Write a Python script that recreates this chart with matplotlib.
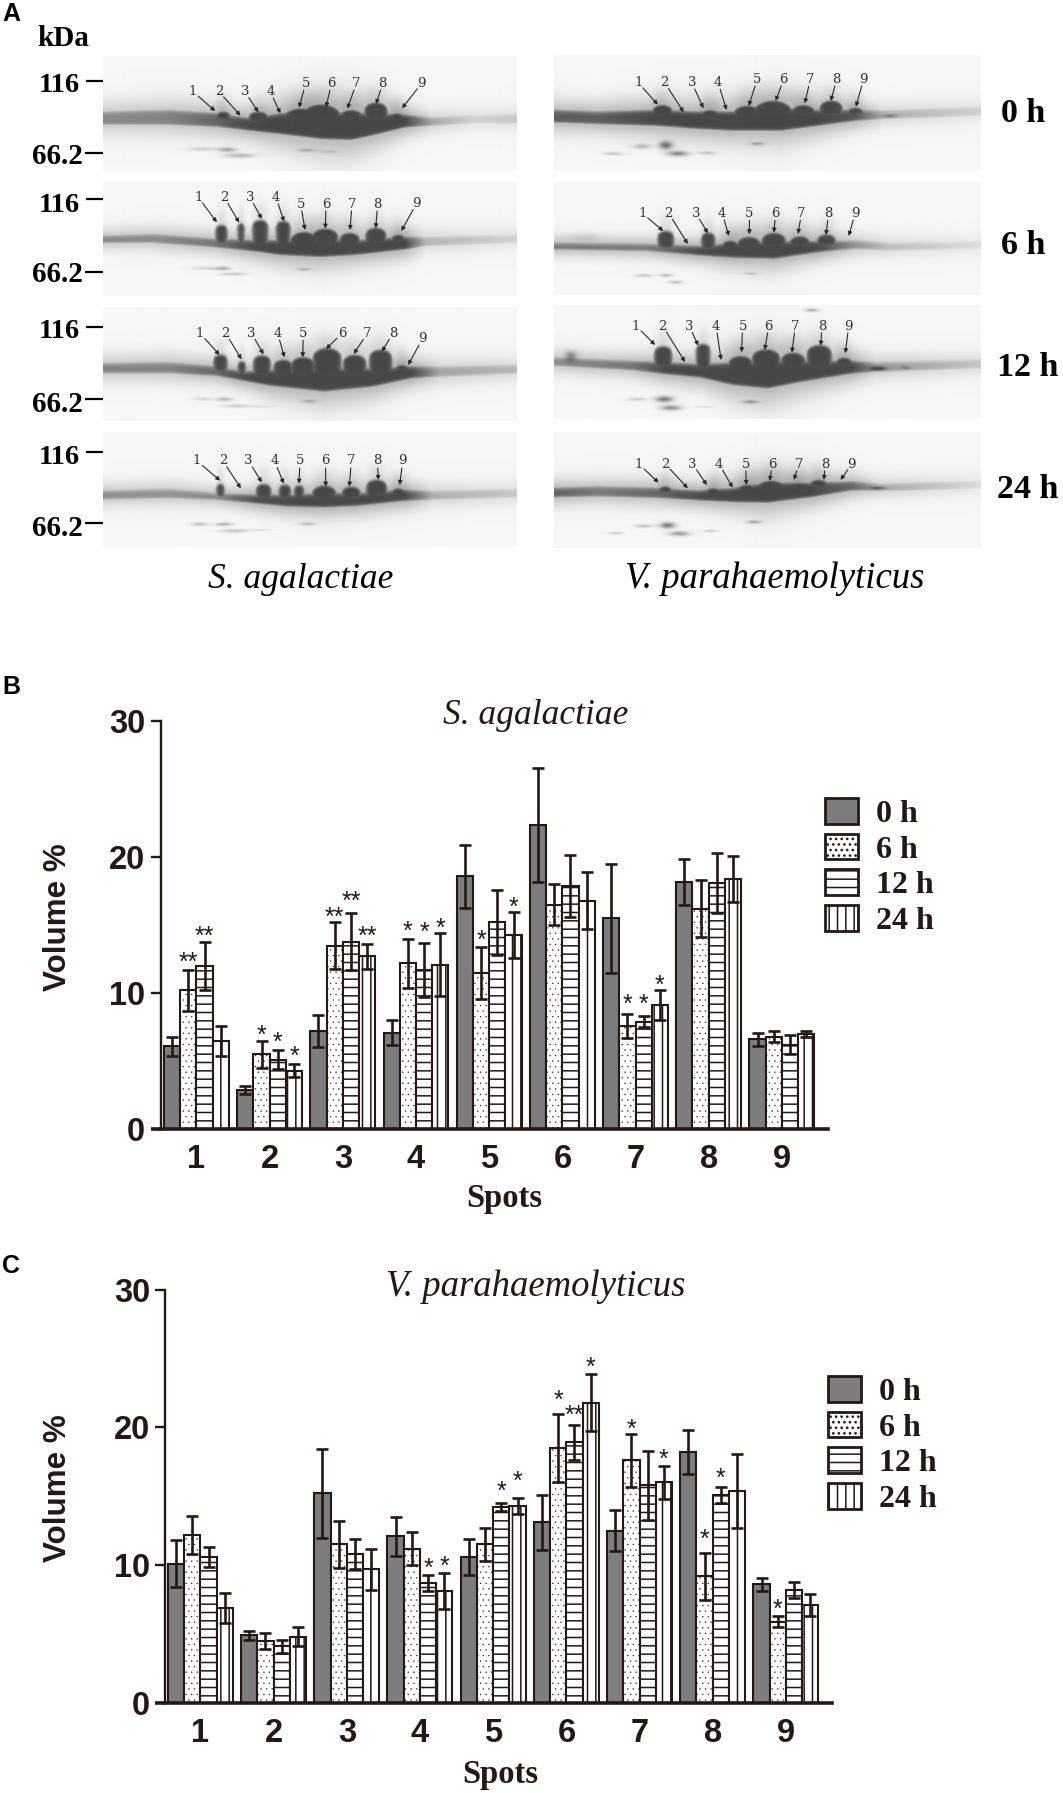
import matplotlib
matplotlib.use("Agg")
import matplotlib.pyplot as plt
from matplotlib.font_manager import FontProperties
import numpy as np

W, H = 1063, 1793
INK = "#231815"
plt.rcParams["hatch.linewidth"] = 1.1
plt.rcParams["hatch.color"] = INK

spots = [1, 2, 3, 4, 5, 6, 7, 8, 9]
times = ["0 h", "6 h", "12 h", "24 h"]

# panel B, S. agalactiae
b_0h = [6.1, 2.9, 7.2, 7.1, 18.6, 22.4, 15.5, 18.2, 6.6]
b_0h_err = [0.7, 0.3, 1.2, 0.9, 2.3, 4.2, 4.0, 1.7, 0.5]
b_6h = [10.2, 5.5, 13.5, 12.2, 11.5, 16.5, 7.6, 16.2, 6.8]
b_6h_err = [1.5, 1.0, 1.7, 1.8, 1.9, 1.5, 0.9, 2.1, 0.4]
b_12h = [12.0, 5.1, 13.8, 11.7, 15.2, 17.9, 7.9, 18.1, 6.2]
b_12h_err = [1.8, 0.7, 2.1, 2.0, 2.4, 2.3, 0.4, 2.2, 0.7]
b_24h = [6.5, 4.3, 12.7, 12.1, 14.3, 16.8, 9.1, 18.4, 7.0]
b_24h_err = [1.1, 0.5, 0.9, 2.3, 1.7, 2.1, 1.1, 1.7, 0.2]
# (spot, time index, marker, height of the marker centre)
b_stars = [(1, 1, "**", 12.8), (1, 2, "**", 14.7), (2, 1, "*", 7.4), (2, 2, "*", 6.9), (2, 3, "*", 5.9),
           (3, 1, "**", 16.1), (3, 2, "**", 17.25), (3, 3, "**", 14.7), (4, 1, "*", 15.1), (4, 2, "*", 15.0),
           (4, 3, "*", 15.3), (5, 1, "*", 14.4), (5, 3, "*", 16.8), (7, 1, "*", 9.7), (7, 2, "*", 9.7),
           (7, 3, "*", 11.1)]

# panel C, V. parahaemolyticus
c_0h = [10.1, 4.9, 15.2, 12.1, 10.6, 13.1, 12.5, 18.2, 8.6]
c_0h_err = [1.7, 0.3, 3.2, 1.4, 1.3, 2.0, 1.5, 1.6, 0.5]
c_6h = [12.2, 4.5, 11.5, 11.2, 11.5, 18.5, 17.6, 9.2, 5.9]
c_6h_err = [1.4, 0.6, 1.7, 1.2, 1.2, 2.5, 1.9, 1.7, 0.4]
c_12h = [10.6, 4.1, 10.8, 8.7, 14.2, 18.9, 15.8, 15.1, 8.2]
c_12h_err = [0.7, 0.5, 1.1, 0.6, 0.3, 1.3, 2.5, 0.6, 0.6]
c_24h = [6.9, 4.8, 9.7, 8.1, 14.3, 21.8, 16.0, 15.4, 7.1]
c_24h_err = [1.1, 0.7, 1.5, 1.3, 0.6, 2.1, 1.2, 2.7, 0.8]
c_stars = [(4, 2, "*", 10.3), (4, 3, "*", 10.4), (5, 2, "*", 15.9), (5, 3, "*", 16.6), (6, 1, "*", 22.5),
           (6, 2, "**", 21.4), (6, 3, "*", 24.85), (7, 1, "*", 20.4), (7, 3, "*", 18.2), (8, 1, "*", 12.4),
           (8, 2, "*", 16.8), (9, 1, "*", 7.3)]

# gels, in crop coordinates read off the zoomed reference
# band: x, top, bottom, darkness / towers: x, half width, top / faint: x, y, sx, sy, darkness
# arrows: label x, label y, tip x, tip y
gel_l0_band = [(310, 340, 372, .55), (500, 335, 372, .6), (640, 345, 378, .8), (740, 360, 390, 1), (830, 345, 400, 1),
               (950, 340, 415, 1), (1040, 345, 418, 1), (1100, 345, 405, 1), (1200, 350, 380, 1), (1280, 358, 375, .4),
               (1400, 350, 368, .15), (1530, 348, 368, .2)]
gel_l0_towers = [(660, 22, 340), (765, 30, 340), (890, 50, 330), (950, 55, 318), (1040, 35, 335), (1113, 33, 313),
                 (1175, 25, 345)]
gel_l0_faint = [(600, 448, 40, 6, .2), (672, 450, 25, 7, .45), (710, 468, 45, 7, .35), (910, 452, 25, 5, .25),
                (975, 456, 25, 5, .15)]
gel_l0_arrows = [(571, 275, 637, 333), (648, 275, 712, 347), (725, 275, 765, 337), (800, 275, 830, 340),
                 (905, 250, 885, 323), (981, 250, 965, 322), (1055, 250, 1028, 326), (1133, 250, 1113, 312),
                 (1248, 250, 1190, 325)]

gel_l1_band = [(310, 712, 725, .6), (450, 706, 725, .55), (630, 720, 738, .7), (760, 725, 752, 1), (830, 725, 762, 1),
               (950, 720, 768, 1), (1050, 725, 762, 1), (1200, 715, 745, 1), (1260, 715, 735, .3), (1530, 708, 725, .15)]
gel_l1_towers = [(655, 17, 680), (713, 10, 675), (770, 22, 665), (838, 20, 668), (900, 40, 700), (962, 38, 690),
                 (1035, 30, 703), (1113, 30, 688), (1180, 22, 708)]
gel_l1_faint = [(620, 805, 50, 5, .2), (660, 805, 20, 6, .3), (690, 822, 40, 5, .25), (900, 808, 20, 4, .3)]
gel_l1_arrows = [(587, 592, 642, 667), (664, 592, 708, 668), (740, 592, 775, 657), (817, 592, 841, 665),
                 (890, 612, 903, 690), (965, 612, 963, 686), (1042, 612, 1036, 690), (1118, 612, 1112, 685),
                 (1233, 610, 1188, 693)]

gel_l2_band = [(310, 195, 217, .6), (500, 192, 217, .6), (640, 205, 225, .8), (720, 220, 240, 1), (800, 215, 255, 1),
               (960, 210, 272, 1), (1100, 210, 258, 1), (1220, 205, 232, 1), (1300, 205, 228, .4), (1530, 200, 218, .3)]
gel_l2_towers = [(652, 20, 170), (715, 12, 190), (775, 25, 172), (838, 28, 185), (897, 35, 177), (968, 40, 150),
                 (1050, 33, 170), (1127, 32, 155), (1190, 22, 200)]
gel_l2_faint = [(600, 297, 30, 5, .2), (665, 298, 22, 6, .35), (700, 318, 40, 5, .25), (915, 304, 22, 5, .25),
                (770, 320, 40, 3, .12)]
gel_l2_arrows = [(592, 100, 650, 165), (668, 100, 715, 178), (745, 100, 780, 163), (822, 100, 842, 172),
                 (898, 100, 896, 172), (1012, 100, 965, 147), (1087, 100, 1047, 162), (1163, 100, 1130, 155),
                 (1250, 117, 1208, 195)]

gel_l3_band = [(310, 578, 595, .55), (500, 572, 592, .5), (640, 585, 597, .6), (760, 590, 608, 1), (850, 590, 617, 1),
               (960, 585, 620, 1), (1060, 585, 615, 1), (1200, 575, 600, 1), (1280, 578, 597, .35), (1530, 572, 590, .2)]
gel_l3_towers = [(652, 12, 558), (780, 22, 558), (843, 18, 560), (885, 15, 562), (960, 35, 562), (1040, 28, 565),
                 (1115, 30, 545), (1180, 22, 570)]
gel_l3_faint = [(590, 673, 25, 5, .3), (662, 673, 25, 5, .4), (695, 693, 40, 5, .3), (910, 672, 22, 4, .3),
                (770, 690, 30, 3, .15)]
gel_l3_arrows = [(583, 483, 652, 542), (660, 483, 713, 565), (736, 483, 775, 547), (813, 483, 840, 551),
                 (888, 483, 885, 551), (964, 483, 964, 560), (1040, 483, 1034, 560), (1117, 483, 1120, 540),
                 (1192, 483, 1183, 555)]

gel_r0_band = [(72, 335, 365, .85), (200, 340, 370, .85), (370, 335, 375, 1), (500, 340, 385, 1), (600, 340, 390, 1),
               (740, 330, 390, 1), (850, 335, 375, 1), (960, 335, 360, .9), (1040, 337, 355, .35), (1327, 325, 345, .15)]
gel_r0_towers = [(390, 30, 320), (530, 30, 335), (640, 40, 322), (715, 55, 307), (805, 35, 320), (887, 33, 307),
                 (958, 25, 328)]
gel_r0_faint = [(330, 440, 25, 8, .3), (400, 437, 20, 12, .7), (435, 462, 30, 8, .6), (245, 462, 30, 5, .25),
                (520, 460, 25, 5, .25), (670, 432, 20, 5, .35), (1060, 348, 20, 5, .3)]
gel_r0_arrows = [(318, 248, 376, 314), (396, 248, 452, 337), (476, 248, 510, 325), (553, 248, 578, 330),
                 (668, 238, 643, 318), (746, 238, 722, 303), (824, 238, 808, 310), (902, 238, 884, 303),
                 (981, 238, 958, 320)]

gel_r1_band = [(72, 735, 747, .7), (350, 738, 752, .7), (500, 745, 765, 1), (600, 735, 772, 1), (720, 730, 775, 1),
               (850, 730, 755, 1), (960, 728, 745, .5), (1060, 735, 750, .25), (1327, 730, 745, .1)]
gel_r1_towers = [(400, 23, 700), (525, 20, 705), (590, 25, 728), (645, 35, 717), (718, 35, 705), (795, 30, 715),
                 (873, 28, 710)]
gel_r1_faint = [(335, 828, 25, 4, .3), (400, 827, 18, 5, .35), (430, 848, 20, 5, .3), (650, 822, 20, 3, .25),
                (160, 712, 50, 12, .12)]
gel_r1_arrows = [(330, 640, 392, 693), (408, 640, 464, 732), (488, 640, 523, 700), (565, 640, 585, 708),
                 (645, 640, 645, 703), (722, 640, 717, 698), (798, 640, 788, 702), (878, 640, 870, 705),
                 (956, 640, 937, 708)]

gel_r2_band = [(72, 180, 197, .55), (300, 190, 210, .7), (400, 195, 222, 1), (500, 200, 232, 1), (600, 195, 255, 1),
               (700, 190, 265, 1), (800, 190, 245, 1), (950, 190, 220, 1), (1020, 195, 215, .5), (1327, 185, 205, .2)]
gel_r2_towers = [(392, 25, 147), (510, 20, 140), (620, 35, 175), (695, 40, 155), (775, 35, 165), (852, 35, 143),
                 (925, 25, 180)]
gel_r2_faint = [(120, 170, 18, 15, .45), (395, 300, 25, 9, .7), (315, 300, 25, 5, .25), (415, 326, 30, 8, .55),
                (650, 308, 22, 5, .4), (830, 32, 20, 5, .4), (1025, 208, 22, 6, .6), (1105, 205, 15, 4, .25),
                (510, 323, 25, 3, .15)]
gel_r2_arrows = [(312, 78, 368, 135), (390, 78, 456, 186), (468, 78, 495, 137), (547, 78, 562, 180),
                 (625, 78, 622, 157), (702, 78, 690, 150), (780, 78, 770, 158), (858, 78, 855, 137),
                 (937, 78, 927, 160)]

gel_r3_band = [(72, 570, 590, .85), (200, 565, 588, .65), (370, 570, 592, .8), (500, 578, 600, 1), (600, 570, 605, 1),
               (700, 555, 607, 1), (830, 555, 590, 1), (950, 550, 570, .8), (1030, 558, 572, .4), (1327, 548, 565, .1)]
gel_r3_towers = [(398, 22, 565), (540, 25, 570), (640, 30, 560), (710, 45, 548), (790, 25, 555), (850, 28, 545)]
gel_r3_faint = [(405, 678, 22, 9, .7), (335, 680, 25, 5, .3), (440, 703, 30, 7, .5), (255, 702, 20, 4, .25),
                (530, 695, 20, 4, .25), (660, 668, 20, 5, .4), (1025, 565, 20, 5, .4)]
gel_r3_arrows = [(320, 492, 378, 548), (398, 492, 464, 565), (478, 492, 520, 555), (556, 492, 596, 563),
                 (634, 492, 636, 555), (712, 492, 705, 543), (790, 492, 776, 540), (868, 492, 864, 540),
                 (946, 492, 913, 540)]


def sig(v):
    return 1 / (1 + np.exp(-np.clip(v, -30, 30)))


def drawGel(overlay, x0Crop, y0Crop, xScale, box, band, towers, faint, arrows):
    # box is left, right, top, bottom in crop coordinates
    left, right, top, bottom = box
    nx = int((right - left) / xScale)
    ny = int((bottom - top) / 3)
    xx, yy = np.meshgrid(np.linspace(left, right, nx), np.linspace(top, bottom, ny))
    bx, bt, bb, bd = np.array(band, dtype=float).T
    upper = np.interp(xx, bx, bt) - 6
    lower = np.interp(xx, bx, bb) + 3
    strength = np.interp(xx, bx, bd) ** 0.8
    mid = (upper + lower) / 2
    d = strength * sig((yy - upper) / 4) * sig((lower - yy) / 2.5)
    d = np.maximum(d, 0.42 * strength * np.exp(-((yy - mid) / (lower - upper + 10)) ** 2))
    for tx, hw, ty in towers:
        u = np.clip((xx - tx) / (hw * 1.1), -1, 1)
        dome = ty - 5 + (1 - np.sqrt(1 - u ** 2)) * hw * 0.7
        tower = sig((yy - dome) / 3) * sig((hw * 1.1 - np.abs(xx - tx)) / 3.5) * sig((mid - yy + 4) / 4)
        d = np.maximum(d, tower)
        # soft smear above each spot
        d += 0.14 * np.exp(-((xx - tx) / hw) ** 2) * sig((yy - ty + 50) / 12) * sig((ty - yy + 5) / 4)
    for fx, fy, sx, sy, fd in faint:
        d += fd * np.exp(-((xx - fx) / sx) ** 2 - ((yy - fy) / sy) ** 2)
    gray = 0.965 - (0.965 - 0.28) * np.clip(d, 0, 1)
    extent = (x0Crop + left / xScale, x0Crop + right / xScale, y0Crop + bottom / 3, y0Crop + top / 3)
    overlay.imshow(gray, cmap="gray", vmin=0, vmax=1, extent=extent, aspect="auto", interpolation="bilinear", zorder=1)
    for i, (lx, ly, tx, ty) in enumerate(arrows):
        lx, ly = x0Crop + lx / xScale, y0Crop + ly / 3
        tx, ty = x0Crop + tx / xScale, y0Crop + ty / 3
        length = np.hypot(tx - lx, ty - ly)
        sx, sy = lx + (tx - lx) * 7 / length, ly + (ty - ly) * 7 / length
        overlay.text(lx, ly, str(i + 1), family="DejaVu Serif", fontsize=9.5, color="#333333",
                     ha="center", va="center", zorder=3)
        overlay.annotate("", xy=(tx, ty), xytext=(sx, sy), zorder=3,
                         arrowprops=dict(arrowstyle="-|>", lw=0.8, color="#2a2a2a", mutation_scale=6,
                                         shrinkA=0, shrinkB=0))


def drawBars(fig, axBox, xlim, series, errors, stars, legendAnchor, title, titleY, titleSize):
    left, right, top, bottom = axBox
    ax = fig.add_axes([left / W, 1 - bottom / H, (right - left) / W, (bottom - top) / H], facecolor="none")
    width = 0.222
    colors = ["#7d7d7d", "white", "white", "white"]
    hatches = [None, "...", "--", "||"]
    x = np.array(spots, dtype=float)
    containers = []
    for i, (vals, errs) in enumerate(zip(series, errors)):
        container = ax.bar(x + (i - 1.5) * width, vals, width, yerr=errs, color=colors[i], hatch=hatches[i],
                           edgecolor=INK, linewidth=1.5, label=times[i], capsize=4,
                           error_kw=dict(ecolor=INK, elinewidth=1.9, capthick=1.9))
        containers.append(container)
        if i == 1:
            for patch in container:
                if hasattr(patch, "set_hatch_linewidth"):
                    patch.set_hatch_linewidth(0.2)
    for spot, t, mark, y in stars:
        ax.annotate(mark, xy=(spot + (t - 1.5) * width, y), xytext=(0, -10.5), textcoords="offset points",
                    family="Liberation Sans", fontsize=18, color=INK, ha="center", va="baseline",
                    annotation_clip=False)
    ax.set_xlim(*xlim)
    ax.set_ylim(0, 30)
    ax.set_xticks(spots)
    ax.set_yticks([0, 10, 20, 30])
    for spine in ["top", "right"]:
        ax.spines[spine].set_visible(False)
    ax.spines["left"].set_linewidth(1.7)
    ax.spines["bottom"].set_linewidth(2.6)
    ax.spines["left"].set_color(INK)
    ax.spines["bottom"].set_color(INK)
    ax.tick_params(axis="y", length=7, width=1.7, color=INK, pad=4)
    ax.tick_params(axis="x", length=0, pad=11)
    for label in ax.get_xticklabels() + ax.get_yticklabels():
        label.set_family("Liberation Sans")
        label.set_fontweight("bold")
        label.set_fontsize(23.5)
        label.set_color(INK)
    ax.yaxis.get_major_ticks()[0].tick1line.set_markeredgewidth(2.6)
    legendFont = FontProperties(family="Liberation Serif", weight="bold", size=23)
    legend = ax.legend(handles=containers, loc="upper left",
                       bbox_to_anchor=(legendAnchor[0] / W, 1 - legendAnchor[1] / H),
                       bbox_transform=fig.transFigure, frameon=False, prop=legendFont, borderpad=0, borderaxespad=0,
                       handlelength=1.03, handleheight=0.86, handletextpad=0.56, labelspacing=0.15, labelcolor=INK)
    for handle in legend.get_patches():
        handle.set_linewidth(2.0)
    fig.text(536 / W, 1 - titleY / H, title, family="Liberation Serif", style="italic", fontsize=titleSize,
             color=INK, ha="center", va="center")
    return ax


fig = plt.figure(figsize=(W / 100, H / 100), dpi=100, facecolor="white")

overlay = fig.add_axes([0, 0, 1, 1], facecolor="none")
overlay.axis("off")
drawGel(overlay, 0, 0, 2.96, (305, 1530, 168, 513), gel_l0_band, gel_l0_towers, gel_l0_faint, gel_l0_arrows)
drawGel(overlay, 0, 0, 2.96, (305, 1530, 545, 887), gel_l1_band, gel_l1_towers, gel_l1_faint, gel_l1_arrows)
drawGel(overlay, 0, 300, 2.96, (305, 1530, 22, 362), gel_l2_band, gel_l2_towers, gel_l2_faint, gel_l2_arrows)
drawGel(overlay, 0, 300, 2.96, (305, 1530, 397, 740), gel_l3_band, gel_l3_towers, gel_l3_faint, gel_l3_arrows)
drawGel(overlay, 530, 0, 2.94, (72, 1327, 165, 513), gel_r0_band, gel_r0_towers, gel_r0_faint, gel_r0_arrows)
drawGel(overlay, 530, 0, 2.94, (72, 1327, 548, 885), gel_r1_band, gel_r1_towers, gel_r1_faint, gel_r1_arrows)
drawGel(overlay, 530, 300, 2.94, (72, 1327, 18, 358), gel_r2_band, gel_r2_towers, gel_r2_faint, gel_r2_arrows)
drawGel(overlay, 530, 300, 2.94, (72, 1327, 397, 745), gel_r3_band, gel_r3_towers, gel_r3_faint, gel_r3_arrows)
overlay.set_xlim(0, W)
overlay.set_ylim(H, 0)

serifBold = dict(family="Liberation Serif", weight="bold", color="black")
overlay.text(63, 38, "kDa", fontsize=21, ha="center", va="center", **serifBold)
marker_rows = [(85, 81, 157, 153), (205, 199, 275, 272), (332, 327, 404, 399), (457, 452, 529, 523)]
for y116, tick116, y66, tick66 in marker_rows:
    overlay.text(80, y116, "116", fontsize=20.5, ha="right", va="center", **serifBold)
    overlay.text(83, y66, "66.2", fontsize=21, ha="right", va="center", **serifBold)
    overlay.plot([86, 103], [tick116, tick116], color="black", lw=1.6, solid_capstyle="butt")
    overlay.plot([85, 103], [tick66, tick66], color="black", lw=1.6, solid_capstyle="butt")
time_rows = [(1001, 113), (1001, 245), (997, 368), (997, 490)]
for label, (x, y) in zip(times, time_rows):
    overlay.text(x, y, label, fontsize=24.5, ha="left", va="center", **serifBold)
overlay.text(301, 579, "S. agalactiae", family="Liberation Serif", style="italic", fontsize=25.5, color="black",
             ha="center", va="center")
overlay.text(775, 579, "V. parahaemolyticus", family="Liberation Serif", style="italic", fontsize=26.5,
             color="black", ha="center", va="center")
for letter, y in zip("ABC", [14, 687, 1266]):
    overlay.text(2, y, letter, family="Liberation Sans", weight="bold", fontsize=18, color="black",
                 ha="left", va="center")

axB = drawBars(fig, (160.6, 828, 721.4, 1129), (0.51, 9.63), [b_0h, b_6h, b_12h, b_24h],
               [b_0h_err, b_6h_err, b_12h_err, b_24h_err], b_stars, (825, 798), "S. agalactiae", 716, 25.5)
axC = drawBars(fig, (165.3, 832, 1289.5, 1703), (0.52, 9.63), [c_0h, c_6h, c_12h, c_24h],
               [c_0h_err, c_6h_err, c_12h_err, c_24h_err], c_stars, (828, 1376), "V. parahaemolyticus", 1287, 26.5)

for y, xc in [(917, 58), (1488, 58)]:
    overlay.text(xc, y, "Volume %", family="Liberation Sans", weight="bold", fontsize=22.6, color=INK,
                 rotation=90, ha="center", va="center")
overlay.text(504, 1199, "Spots", fontsize=23.5, ha="center", va="center", **{**serifBold, "color": INK})
overlay.text(500, 1775, "Spots", fontsize=23.5, ha="center", va="center", **{**serifBold, "color": INK})

fig.savefig("out.png", dpi=100, facecolor="white")
